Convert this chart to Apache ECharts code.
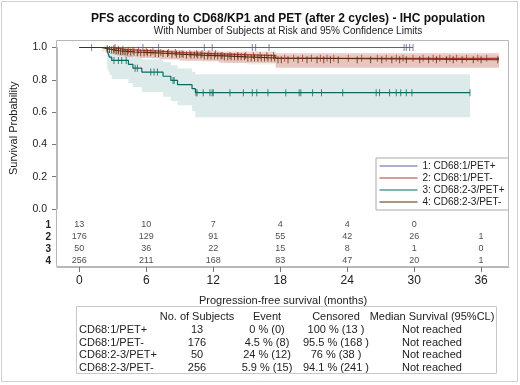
<!DOCTYPE html>
<html>
<head>
<meta charset="utf-8">
<script src="https://cdn.jsdelivr.net/npm/echarts@6/dist/echarts.min.js"></script>
<style>
html, body { margin: 0; padding: 0; background: #fff; }
#main { width: 520px; height: 385px; }
</style>
</head>
<body>
<div id="main"></div>
<script>
// group names (legend) and at-risk row labels
var groupNames = ['1: CD68:1/PET+', '2: CD68:1/PET-', '3: CD68:2-3/PET+', '4: CD68:2-3/PET-'];
var riskRows = ['1', '2', '3', '4'];

// Kaplan-Meier steps (months, survival) and 95% limits
var g1Times = [0, 29.9];
var g1Surv = [1, 1];

var g2Times = [0, 3.0, 3.4, 4.0, 5.5, 7.2, 9.0, 12.5, 17.6, 37.6];
var g2Surv = [1, 0.994, 0.989, 0.983, 0.977, 0.969, 0.961, 0.950, 0.933, 0.933];
var g2Lower = [1, 0.958, 0.950, 0.943, 0.935, 0.927, 0.918, 0.905, 0.873, 0.873];
var g2Upper = [1, 0.999, 0.997, 0.994, 0.990, 0.986, 0.981, 0.975, 0.966, 0.966];

var g3Times = [0, 2.5, 2.6, 2.7, 2.9, 4.4, 4.8, 5.6, 7.5, 8.2, 8.8, 10.1, 10.4, 35.0];
var g3Surv = [1, 0.98, 0.96, 0.94, 0.92, 0.896, 0.872, 0.848, 0.822, 0.796, 0.77, 0.745, 0.72, 0.72];
var g3Lower = [1, 0.87, 0.85, 0.83, 0.805, 0.78, 0.755, 0.725, 0.695, 0.668, 0.642, 0.605, 0.568, 0.568];
var g3Upper = [1, 0.997, 0.99, 0.98, 0.97, 0.955, 0.94, 0.925, 0.91, 0.89, 0.87, 0.85, 0.835, 0.835];

var g4Times = [0, 2.0, 2.3, 2.6, 2.9, 3.2, 3.6, 4.3, 5.0, 6.5, 8.0, 9.5, 11.0, 13.0, 15.0, 17.6, 37.6];
var g4Surv = [1, 0.996, 0.992, 0.988, 0.984, 0.980, 0.976, 0.972, 0.968, 0.963, 0.958, 0.953, 0.948, 0.942, 0.935, 0.924, 0.924];
var g4Lower = [1, 0.972, 0.966, 0.961, 0.956, 0.951, 0.946, 0.941, 0.936, 0.930, 0.924, 0.918, 0.912, 0.904, 0.895, 0.880, 0.880];
var g4Upper = [1, 0.999, 0.998, 0.996, 0.994, 0.991, 0.989, 0.986, 0.983, 0.980, 0.977, 0.974, 0.971, 0.967, 0.962, 0.955, 0.955];

// censoring times (months)
var g1Cens = [1.1, 3.2, 5.7, 7.1, 11.2, 11.9, 15.5, 15.8, 17.0, 29.1, 29.3, 29.6, 29.9];
var g2Cens = [3.1, 3.5, 3.9, 4.4, 4.8, 5.3, 6.0, 6.6, 7.3, 8.0, 8.6, 9.2, 9.9, 10.5, 11.0, 11.6,
  12.2, 12.8, 13.5, 14.2, 14.9, 15.6, 16.2, 16.8, 17.4, 18.4, 19.2, 20.0, 20.8, 21.6, 22.2,
  22.8, 24.1, 25.3, 26.7, 27.5, 28.4, 29.0, 29.9, 30.8, 31.7, 32.3, 33.2, 33.8, 34.7, 35.7, 36.5];
var g3Cens = [3.1, 3.5, 3.8, 4.2, 5.0, 5.2, 6.4, 6.7, 7.0, 8.4, 8.5, 10.45, 10.55, 11.1, 11.7, 11.9,
  12.0, 13.5, 14.7, 15.5, 15.9, 16.9, 18.5, 19.7, 19.85, 20.9, 21.7, 23.6, 26.6, 26.9, 27.8,
  28.4, 28.8, 29.3, 29.8, 35.0];
var g4Cens = [2.5, 2.7, 2.9, 3.1, 3.3, 3.5, 3.7, 3.9, 4.1, 4.3, 4.6, 4.9, 5.2, 5.5, 5.8, 6.1, 6.4,
  6.8, 7.1, 7.5, 7.9, 8.3, 8.7, 9.0, 9.3, 9.6, 10.0, 10.3, 10.6, 10.9, 11.2, 11.5, 11.8, 12.1,
  12.4, 12.7, 13.0, 13.3, 13.6, 13.9, 14.2, 14.5, 14.8, 15.1, 15.4, 15.7, 16.0, 16.3, 16.6,
  16.9, 17.2, 17.5, 17.8, 18.1, 18.7, 19.6, 20.4, 21.3, 21.9, 22.5, 23.2, 24.9, 26.1, 27.1,
  28.0, 28.7, 29.3, 30.5, 31.3, 32.0, 32.9, 33.5, 34.3, 35.3, 36.0, 37.5];

// number at risk
var riskTimes = [0, 6, 12, 18, 24, 30, 36];
var risk1 = [13, 10, 7, 4, 4, 0];
var risk2 = [176, 129, 91, 55, 42, 26, 1];
var risk3 = [50, 36, 22, 15, 8, 1, 0];
var risk4 = [256, 211, 168, 83, 47, 20, 1];

var xTicks = [0, 6, 12, 18, 24, 30, 36];

// summary table
var tableHeader = ['', 'No. of Subjects', 'Event', 'Censored', 'Median Survival (95%CL)'];
var tableGroups = ['CD68:1/PET+', 'CD68:1/PET-', 'CD68:2-3/PET+', 'CD68:2-3/PET-'];
var tableSubjects = ['13', '176', '50', '256'];
var tableEvents = ['0 % (0)', '4.5 % (8)', '24 % (12)', '5.9 % (15)'];
var tableCensored = ['100 % (13 )', '95.5 % (168 )', '76 % (38 )', '94.1 % (241 )'];
var tableMedian = ['Not reached', 'Not reached', 'Not reached', 'Not reached'];

var lineColors = ['#5b5f9c', '#b03a2e', '#0b6a61', '#562c0a'];
var bandColors = ['rgba(0,0,0,0)', 'rgba(205,100,80,0.28)', 'rgba(60,140,135,0.18)', 'rgba(160,100,70,0.12)'];
var frameColor = '#b8b8b8';
var font = '"Liberation Sans", Arial, sans-serif';

function pairs(xs, ys) {
  return xs.map(function (x, i) { return [x, ys[i]]; });
}
function survAt(times, surv, t) {
  var s = surv[0];
  for (var i = 0; i < times.length; i++) { if (times[i] <= t) s = surv[i]; }
  return s;
}

var curves = [
  { t: g1Times, s: g1Surv, c: g1Cens },
  { t: g2Times, s: g2Surv, lo: g2Lower, up: g2Upper, c: g2Cens },
  { t: g3Times, s: g3Surv, lo: g3Lower, up: g3Upper, c: g3Cens },
  { t: g4Times, s: g4Surv, lo: g4Lower, up: g4Upper, c: g4Cens }
];
var risks = [risk1, risk2, risk3, risk4];

var series = [];
// confidence bands: step polygon (upper edge forward, lower edge back)
[2, 1, 3].forEach(function (g) {
  var cv = curves[g];
  series.push({
    type: 'custom', xAxisIndex: 0, yAxisIndex: 0, silent: true, z: 1,
    data: [0],
    renderItem: function (params, api) {
      var pts = [];
      for (var i = 0; i < cv.t.length - 1; i++) {
        pts.push(api.coord([cv.t[i], cv.up[i]]));
        pts.push(api.coord([cv.t[i + 1], cv.up[i]]));
      }
      for (var j = cv.t.length - 2; j >= 0; j--) {
        pts.push(api.coord([cv.t[j + 1], cv.lo[j]]));
        pts.push(api.coord([cv.t[j], cv.lo[j]]));
      }
      return { type: 'polygon', shape: { points: pts }, style: { fill: bandColors[g] } };
    }
  });
});
// survival lines + censor ticks
[0, 1, 2, 3].forEach(function (g) {
  var cv = curves[g];
  series.push({
    name: groupNames[g], type: 'line', xAxisIndex: 0, yAxisIndex: 0, step: 'end',
    data: pairs(cv.t, cv.s), symbol: 'none', color: lineColors[g],
    lineStyle: { width: 1.2, color: lineColors[g] }, z: 3 + g
  });
  series.push({
    type: 'scatter', xAxisIndex: 0, yAxisIndex: 0, silent: true,
    data: cv.c.map(function (t) { return [t, survAt(cv.t, cv.s, t)]; }),
    symbol: 'rect', symbolSize: [1, 7],
    itemStyle: { color: lineColors[g] }, z: 3 + g
  });
});
// number at risk table
risks.forEach(function (arr, g) {
  series.push({
    type: 'scatter', xAxisIndex: 1, yAxisIndex: 1, silent: true,
    data: arr.map(function (n, i) { return [riskTimes[i], riskRows[g], n]; }),
    symbolSize: 0,
    label: {
      show: true, position: 'inside', color: '#222', fontSize: 9, fontFamily: font,
      formatter: function (p) { return p.data[2]; }
    }
  });
});

// summary table graphics
var colX = [79, 197, 267, 336, 432];
var rowY = [317, 330, 342.5, 355, 367.5];
var tableEls = [{
  type: 'rect', shape: { x: 76.5, y: 306.5, width: 420, height: 67 },
  style: { fill: 'none', stroke: '#c8c8c8', lineWidth: 1 }
}];
function cell(txt, col, row) {
  tableEls.push({
    type: 'text', x: colX[col], y: rowY[row],
    style: {
      text: txt, fill: '#222', font: '11px ' + font,
      textAlign: col === 0 ? 'left' : 'center', textVerticalAlign: 'middle'
    }
  });
}
tableHeader.forEach(function (h, c) { if (h) cell(h, c, 0); });
tableGroups.forEach(function (g, r) {
  cell(g, 0, r + 1);
  cell(tableSubjects[r], 1, r + 1);
  cell(tableEvents[r], 2, r + 1);
  cell(tableCensored[r], 3, r + 1);
  cell(tableMedian[r], 4, r + 1);
});

var option = {
  animation: false,
  backgroundColor: '#fff',
  textStyle: { fontFamily: font },
  title: {
    text: 'PFS according to CD68/KP1 and PET (after 2 cycles) - IHC population',
    subtext: 'With Number of Subjects at Risk and 95% Confidence Limits',
    left: 283, textAlign: 'center', top: 8, itemGap: 1,
    textStyle: { fontSize: 12, fontWeight: 'bold', color: '#111', fontFamily: font },
    subtextStyle: { fontSize: 10, color: '#222', fontFamily: font }
  },
  legend: {
    data: groupNames, orient: 'vertical', left: 376, top: 158,
    itemWidth: 38, itemHeight: 11, itemGap: 2,
    padding: [3, 4, 3, 3], borderColor: '#aaa', borderWidth: 1,
    lineStyle: { width: 1 },
    itemStyle: { opacity: 0 },
    textStyle: { fontSize: 10, color: '#222', fontFamily: font }
  },
  grid: [
    { left: 57, right: 11, top: 47.5, height: 161.5 },
    { left: 57, right: 11, top: 219, height: 48 }
  ],
  xAxis: [
    { gridIndex: 0, type: 'value', min: -2, max: 38.5, show: false },
    {
      gridIndex: 1, type: 'value', min: -2, max: 38.5,
      axisLine: { show: true, onZero: false, lineStyle: { color: frameColor } },
      axisTick: { show: true, length: 5, customValues: xTicks, lineStyle: { color: '#777' } },
      axisLabel: { customValues: xTicks, fontSize: 12, color: '#222', margin: 8 },
      splitLine: { show: false },
      name: 'Progression-free survival (months)', nameLocation: 'middle', nameGap: 28,
      nameTextStyle: { fontSize: 11, color: '#222' }
    }
  ],
  yAxis: [
    {
      gridIndex: 0, type: 'value', min: 0, max: 1, interval: 0.2,
      axisLine: { show: true, onZero: false, lineStyle: { color: frameColor } },
      axisTick: { show: true, length: 5, lineStyle: { color: '#777' } },
      axisLabel: { fontSize: 10.5, color: '#222', margin: 10, formatter: function (v) { return v.toFixed(1); } },
      splitLine: { show: false },
      name: 'Survival Probability', nameLocation: 'middle', nameGap: 38,
      nameTextStyle: { fontSize: 11, color: '#222' }
    },
    {
      gridIndex: 1, type: 'category', data: riskRows, inverse: true,
      axisLine: { show: false, onZero: false }, axisTick: { show: false },
      axisLabel: { interval: 0, fontSize: 10, fontWeight: 'bold', color: '#222', margin: 6 }
    }
  ],
  graphic: [
    { type: 'rect', shape: { x: 1.5, y: 1.5, width: 516, height: 380 }, style: { fill: 'none', stroke: '#d0d0d0', lineWidth: 1 }, z: -1 },
    { type: 'rect', shape: { x: 56.5, y: 40.5, width: 452, height: 226 }, style: { fill: 'none', stroke: frameColor, lineWidth: 1 }, z: 10 },
    { type: 'group', children: tableEls }
  ],
  series: series
};

echarts.init(document.getElementById('main')).setOption(option);
</script>
</body>
</html>
